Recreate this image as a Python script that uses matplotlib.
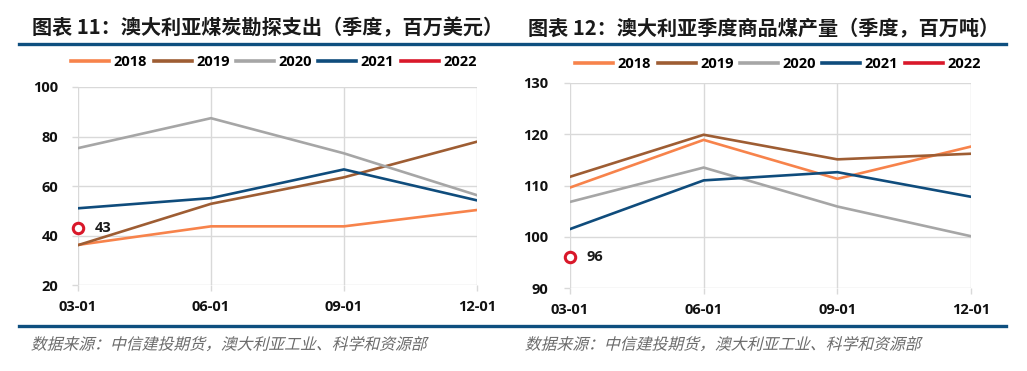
import math
import matplotlib
matplotlib.use('Agg')
import matplotlib.pyplot as plt
from matplotlib.lines import Line2D
from matplotlib.patheffects import AbstractPathEffect
from matplotlib.transforms import Affine2D

plt.rcParams['font.family'] = ['Noto Sans CJK SC', 'DejaVu Sans']

quarters = ['03-01', '06-01', '09-01', '12-01']
years = ['2018', '2019', '2020', '2021', '2022']
colors = ['#F7834B', '#9E5D33', '#A6A6A6', '#0F4C7C', '#D9182A']

# 图表11 勘探支出（百万美元）
explore = {
    '2018': [36.2, 43.7, 43.7, 50.3],
    '2019': [36.1, 52.8, 63.5, 77.9],
    '2020': [75.3, 87.4, 73.2, 56.3],
    '2021': [51.0, 55.1, 66.7, 54.2],
}
explore_2022 = [43]

# 图表12 商品煤产量（百万吨）
output = {
    '2018': [109.6, 118.9, 111.3, 117.6],
    '2019': [111.7, 119.9, 115.1, 116.2],
    '2020': [106.8, 113.5, 105.9, 100.1],
    '2021': [101.5, 111.0, 112.6, 107.8],
}
output_2022 = [96]

title1 = '图表 11：澳大利亚煤炭勘探支出（季度，百万美元）'
title2 = '图表 12：澳大利亚季度商品煤产量（季度，百万吨）'
source = '数据来源：中信建投期货，澳大利亚工业、科学和资源部'

rule_color = '#0E4F7F'
grid_color = '#D9D9D9'
tick_font = ['Open Sans', 'DejaVu Sans']


class Slant(AbstractPathEffect):
    # fake italic: shear the glyph outlines around the text origin
    def __init__(self, deg=14):
        super().__init__()
        self.k = math.tan(math.radians(deg))

    def draw_path(self, renderer, gc, tpath, affine, rgbFace=None):
        ty = affine.get_matrix()[1, 2]
        shear = Affine2D([[1, self.k, -self.k * ty], [0, 1, 0], [0, 0, 1]])
        renderer.draw_path(gc, tpath, affine + shear, rgbFace)


fig = plt.figure(figsize=(10.27, 3.71), dpi=100)


def draw(ax, data, last, ylim, yticks, label_pad, legend_xy):
    x = range(len(quarters))
    for yr, c in zip(years[:4], colors[:4]):
        ax.plot(x, data[yr], color=c, lw=1.9, solid_joinstyle='miter')
    ax.plot(range(len(last)), last, 'o', ms=7.5, mfc='white', mec=colors[4],
            mew=2.2, clip_on=False, zorder=5)
    for i, v in enumerate(last):
        ax.annotate(str(v), (i, v), xytext=(12, 0), textcoords='offset points',
                    va='center', ha='left', fontsize=10.5, fontweight='bold',
                    family=tick_font, color='#1a1a1a')
    ax.set_xlim(0, len(quarters) - 1)
    ax.set_ylim(*ylim)
    ax.set_yticks(yticks)
    ax.set_xticks(list(x))
    ax.set_xticklabels(quarters)
    ax.grid(True, color=grid_color, lw=1)
    ax.set_axisbelow(True)
    for s in ax.spines.values():
        s.set_visible(False)
    ax.tick_params(axis='both', color=grid_color, length=4, width=1)
    ax.tick_params(axis='y', pad=label_pad)
    ax.tick_params(axis='x', pad=7)
    for t in ax.get_xticklabels() + ax.get_yticklabels():
        t.set_fontsize(10.5)
        t.set_fontweight('bold')
        t.set_family(tick_font)
        t.set_color('#111111')
    handles = [Line2D([], [], color=c, lw=2.6) for c in colors]
    fig.legend(handles, years, loc='center', bbox_to_anchor=legend_xy,
               ncol=5, frameon=False, handlelength=2.6, handletextpad=0.3,
               columnspacing=0.45, borderaxespad=0,
               prop={'family': tick_font, 'weight': 'bold', 'size': 10.5})


ax1 = fig.add_axes([0.0759, 0.2318, 0.3885, 0.5337])
draw(ax1, explore, explore_2022, (20, 100), [20, 40, 60, 80, 100], 10,
     (274 / 1027, 1 - 62 / 371))

ax2 = fig.add_axes([0.555, 0.2237, 0.3905, 0.5526])
draw(ax2, output, output_2022, (90, 130), [90, 100, 110, 120, 130], 12,
     (778 / 1027, 1 - 64 / 371))

fig.text(0.031, 0.926, title1, fontsize=14.5, fontweight='bold', va='center', color='#1a1a1a')
fig.text(0.514, 0.926, title2, fontsize=14.5, fontweight='bold', va='center', color='#1a1a1a')

fig.add_artist(Line2D([19 / 1027, 1006 / 1027], [1 - 43.5 / 371] * 2, color=rule_color, lw=2.4))
fig.add_artist(Line2D([19 / 1027, 1006 / 1027], [1 - 326 / 371] * 2, color=rule_color, lw=2.4))

for xpos in (0.030, 0.511):
    fig.text(xpos, 1 - 345 / 371, source, fontsize=11.4, color='#6b6b6b',
             va='center', path_effects=[Slant(14)])

fig.savefig('out.png', dpi=100, facecolor='white')
